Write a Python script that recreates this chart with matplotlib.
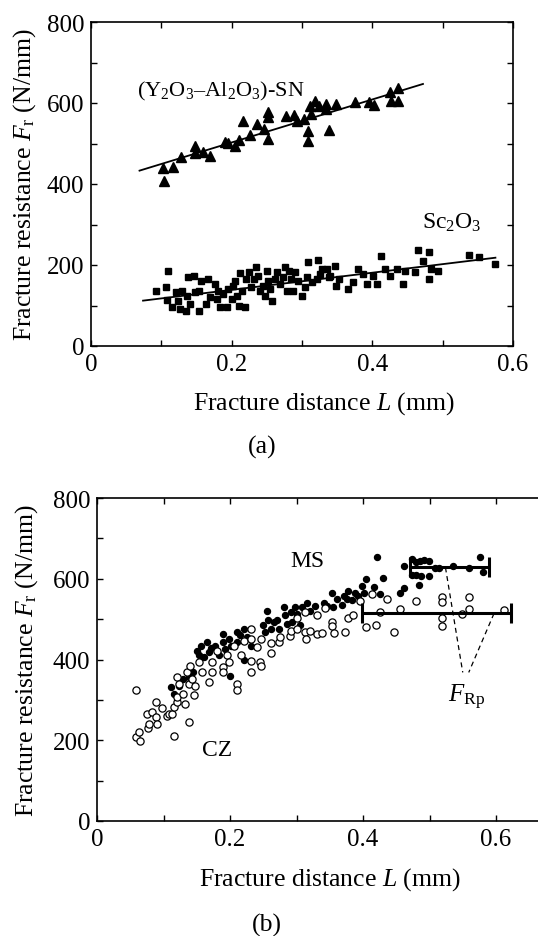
import matplotlib
matplotlib.use("Agg")
import matplotlib.pyplot as plt
import numpy as np

plt.rcParams['font.family'] = ['Liberation Serif', 'DejaVu Serif']
plt.rcParams['mathtext.fontset'] = 'custom'
plt.rcParams['mathtext.rm'] = 'Liberation Serif'
plt.rcParams['mathtext.it'] = 'Liberation Serif:italic'
plt.rcParams['mathtext.bf'] = 'Liberation Serif:bold'

# ---------------- (a) data ----------------
sn_L = [0.103, 0.104, 0.117, 0.128, 0.148, 0.148, 0.159, 0.169, 0.190, 0.195,
        0.205, 0.210, 0.216, 0.226, 0.236, 0.246, 0.252, 0.252, 0.252, 0.277,
        0.288, 0.293, 0.303, 0.309, 0.309, 0.313, 0.312, 0.319, 0.324, 0.334,
        0.334, 0.339, 0.349, 0.375, 0.395, 0.402, 0.425, 0.427, 0.437, 0.437]
sn_F = [439, 408, 443, 466, 494, 476, 480, 470, 504, 501,
        493, 509, 556, 521, 548, 536, 511, 565, 578, 567,
        570, 556, 560, 530, 507, 573, 592, 606, 593, 598,
        585, 534, 598, 602, 602, 595, 626, 606, 606, 636]
sn_fit_L = [0.069, 0.472]
sn_fit_F = [433, 647]

sc_L = [0.092, 0.107, 0.110, 0.108, 0.115, 0.121, 0.124, 0.127, 0.129, 0.135,
        0.137, 0.138, 0.141, 0.146, 0.148, 0.153, 0.154, 0.157, 0.164, 0.167,
        0.169, 0.176, 0.179, 0.181, 0.183, 0.188, 0.193, 0.195, 0.200, 0.202,
        0.205, 0.207, 0.210, 0.212, 0.214, 0.219, 0.221, 0.225, 0.228, 0.232,
        0.235, 0.238, 0.240, 0.245, 0.247, 0.250, 0.252, 0.255, 0.258, 0.262,
        0.264, 0.269, 0.273, 0.276, 0.278, 0.281, 0.285, 0.287, 0.290, 0.295,
        0.300, 0.304, 0.307, 0.309, 0.314, 0.321, 0.323, 0.326, 0.328, 0.335,
        0.338, 0.340, 0.347, 0.348, 0.352, 0.366, 0.373, 0.380, 0.387, 0.392,
        0.401, 0.406, 0.413, 0.418, 0.425, 0.435, 0.444, 0.447, 0.461, 0.465,
        0.472, 0.480, 0.480, 0.484, 0.494, 0.537, 0.551, 0.574]
sc_F = [137, 145, 184, 114, 96, 133, 112, 91, 137, 87,
        124, 170, 104, 174, 133, 87, 137, 161, 104, 165,
        120, 153, 116, 137, 96, 128, 96, 141, 116, 149,
        161, 124, 100, 180, 137, 96, 165, 182, 145, 165,
        194, 174, 137, 149, 124, 184, 161, 141, 110, 165,
        182, 153, 170, 196, 137, 186, 165, 137, 182, 161,
        124, 145, 170, 207, 157, 165, 212, 178, 190, 190,
        170, 174, 197, 149, 165, 141, 157, 190, 178, 153,
        174, 153, 221, 190, 174, 190, 153, 186, 182, 238,
        211, 231, 165, 189, 186, 225, 219, 203]
sc_fit_L = [0.074, 0.575]
sc_fit_F = [112, 218]

# ---------------- (b) data ----------------
cz_L = [0.059, 0.058, 0.064, 0.063, 0.076, 0.078, 0.075, 0.083, 0.088, 0.089,
        0.090, 0.098, 0.106, 0.108, 0.113, 0.116, 0.116, 0.120, 0.121, 0.124,
        0.121, 0.129, 0.133, 0.135, 0.138, 0.139, 0.143, 0.146, 0.148, 0.140,
        0.153, 0.158, 0.169, 0.173, 0.173, 0.180, 0.189, 0.189, 0.196, 0.198,
        0.206, 0.210, 0.210, 0.216, 0.221, 0.231, 0.231, 0.231, 0.232, 0.240,
        0.245, 0.246, 0.246, 0.261, 0.261, 0.273, 0.275, 0.290, 0.291, 0.301,
        0.301, 0.313, 0.315, 0.313, 0.321, 0.331, 0.331, 0.338, 0.343, 0.353,
        0.353, 0.356, 0.373, 0.377, 0.385, 0.396, 0.405, 0.414, 0.419, 0.426,
        0.436, 0.447, 0.455, 0.479, 0.519, 0.519, 0.519, 0.519, 0.549, 0.560,
        0.560, 0.612]
cz_F = [325, 207, 197, 221, 230, 240, 265, 269, 294, 257,
        240, 279, 261, 265, 265, 282, 210, 294, 356, 339,
        306, 315, 290, 368, 244, 339, 352, 311, 335, 385,
        393, 368, 344, 368, 393, 422, 381, 368, 410, 393,
        434, 339, 325, 410, 447, 476, 397, 370, 451, 430,
        393, 385, 451, 441, 416, 443, 455, 459, 471, 476,
        504, 467, 452, 517, 471, 509, 463, 466, 527, 494,
        484, 466, 469, 504, 509, 546, 480, 562, 485, 517,
        551, 467, 525, 546, 556, 543, 504, 482, 513, 556,
        525, 523]

ms_L = [0.111, 0.116, 0.123, 0.129, 0.138, 0.145, 0.150, 0.153, 0.156, 0.161,
        0.165, 0.168, 0.171, 0.178, 0.181, 0.183, 0.189, 0.190, 0.193, 0.200,
        0.198, 0.202, 0.210, 0.211, 0.215, 0.221, 0.221, 0.225, 0.232, 0.250,
        0.253, 0.256, 0.257, 0.261, 0.266, 0.271, 0.273, 0.281, 0.283, 0.286,
        0.291, 0.293, 0.297, 0.301, 0.306, 0.308, 0.316, 0.321, 0.328, 0.341,
        0.346, 0.353, 0.355, 0.361, 0.368, 0.371, 0.376, 0.378, 0.383, 0.388,
        0.393, 0.398, 0.401, 0.405, 0.416, 0.421, 0.426, 0.430, 0.455, 0.461,
        0.461, 0.474, 0.474, 0.480, 0.480, 0.484, 0.486, 0.487, 0.492, 0.499,
        0.499, 0.509, 0.514, 0.535, 0.560, 0.576, 0.581]
ms_F = [331, 315, 335, 352, 356, 368, 422, 410, 434, 405,
        443, 418, 428, 434, 422, 410, 443, 463, 426, 358,
        451, 434, 469, 443, 461, 476, 400, 455, 434, 485,
        467, 521, 499, 476, 492, 499, 476, 529, 509, 488,
        517, 492, 529, 513, 485, 529, 540, 521, 533, 540,
        532, 565, 529, 551, 535, 558, 550, 570, 548, 565,
        558, 581, 565, 599, 579, 655, 562, 601, 565, 576,
        632, 649, 609, 641, 609, 585, 645, 608, 647, 645,
        606, 626, 626, 632, 626, 655, 616]

# F_Rp ranges (left, right, level)
frp_ms = [0.471, 0.590, 628]
frp_cz = [0.398, 0.623, 514]

fig = plt.figure(figsize=(5.38, 9.37), dpi=100)

TICK_FS = 18
LAB_FS = 18.5
TXT_FS = 17


def style_axes(ax, xmax):
    for s in ax.spines.values():
        s.set_linewidth(1.2)
    ax.tick_params(direction='in', length=4.5, width=1.0, top=True, right=True,
                   labelsize=TICK_FS, pad=5)
    xt = [0, 0.1, 0.2, 0.3, 0.4, 0.5, 0.6]
    ax.set_xticks(xt)
    ax.set_xticklabels(['0', '', '0.2', '', '0.4', '', '0.6'])
    yt = list(range(0, 801, 100))
    ax.set_yticks(yt)
    ax.set_yticklabels([str(v) if v % 200 == 0 else '' for v in yt])
    ax.set_xlim(0, xmax)
    ax.set_ylim(0, 800)


# ---------------- (a) ----------------
ax1 = fig.add_axes([91 / 538, 1 - 347 / 937, (513 - 91) / 538, (347 - 23) / 937])
style_axes(ax1, 0.6)
ax1.plot(sn_fit_L, sn_fit_F, color='black', lw=1.3)
ax1.plot(sc_fit_L, sc_fit_F, color='black', lw=1.3)
ax1.plot(sn_L, sn_F, linestyle='none', marker='^', color='black', markersize=6.5)
ax1.plot(sc_L, sc_F, linestyle='none', marker='s', color='black', markersize=5)
ax1.text(0.065, 630, r'(Y$_2$O$_3$–Al$_2$O$_3$)-SN', fontsize=16, va='center', ha='left')
ax1.text(0.47, 306, r'Sc$_2$O$_3$', fontsize=TXT_FS, va='center', ha='left')
ax1.set_xlabel(r'Fracture distance $L$ (mm)', fontsize=LAB_FS)
ax1.set_ylabel(r'Fracture resistance $F_{\rm r}$ (N/mm)', fontsize=LAB_FS)
ax1.xaxis.set_label_coords((324 - 91) / (513 - 91), -(390 - 347) / (347 - 23))
ax1.yaxis.set_label_coords(-(91 - 38) / (513 - 91), 0.5)
fig.text(262 / 538, 1 - 447 / 937, '(a)', fontsize=LAB_FS, ha='center', va='center')

# ---------------- (b) ----------------
xmax_b = (538 - 97) / 665 * 0.1 * 10
ax2 = fig.add_axes([97 / 538, 1 - 822 / 937, (538 - 97) / 538, (822 - 499) / 937])
style_axes(ax2, xmax_b)
ax2.spines['right'].set_visible(False)
ax2.tick_params(right=False)
ax2.plot(ms_L, ms_F, linestyle='none', marker='o', color='black', markersize=4.3)
ax2.plot(cz_L, cz_F, linestyle='none', marker='o', markerfacecolor='white',
         markeredgecolor='black', markeredgewidth=0.9, markersize=5.2)
for left, right, lvl in (frp_ms, frp_cz):
    ax2.errorbar([(left + right) / 2], [lvl], xerr=[(right - left) / 2], fmt='none',
                 ecolor='black', elinewidth=2.2, capsize=7.5, capthick=2.2)
ax2.plot([0.524, 0.550], [628, 368], color='black', lw=0.9, linestyle=(0, (4, 3)))
ax2.plot([0.597, 0.559], [514, 368], color='black', lw=0.9, linestyle=(0, (4, 3)))
ax2.text(0.316, 645, 'MS', fontsize=TXT_FS, ha='center', va='center')
ax2.text(0.180, 178, 'CZ', fontsize=TXT_FS, ha='center', va='center')
ax2.text(0.556, 308, r'$F_{\rm Rp}$', fontsize=TXT_FS + 1, ha='center', va='center')
ax2.set_xlabel(r'Fracture distance $L$ (mm)', fontsize=LAB_FS)
ax2.set_ylabel(r'Fracture resistance $F_{\rm r}$ (N/mm)', fontsize=LAB_FS)
ax2.xaxis.set_label_coords((330 - 97) / (538 - 97), -(866 - 822) / (822 - 499))
ax2.yaxis.set_label_coords(-(97 - 40) / (538 - 97), 0.5)
fig.text(267 / 538, 1 - 925 / 937, '(b)', fontsize=LAB_FS, ha='center', va='center')

fig.savefig('out.png', dpi=100)
